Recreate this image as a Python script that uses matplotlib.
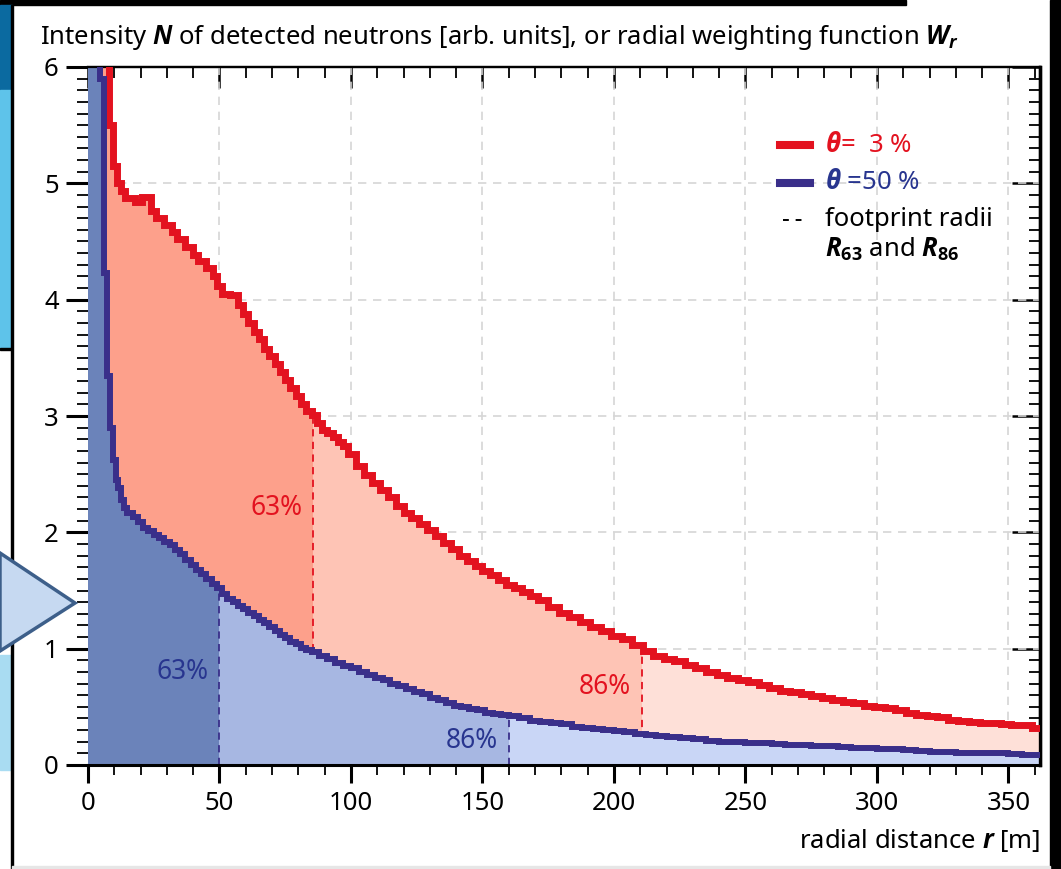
import numpy as np
import matplotlib
matplotlib.use("Agg")
import matplotlib.pyplot as plt
from matplotlib.ticker import MultipleLocator
from matplotlib.patches import Rectangle, Polygon

FONT = "Noto Sans"
plt.rcParams['font.family'] = [FONT, 'DejaVu Sans']
plt.rcParams['mathtext.fontset'] = 'custom'
plt.rcParams['mathtext.rm'] = FONT
plt.rcParams['mathtext.it'] = FONT + ':italic'
plt.rcParams['mathtext.bf'] = 'Open Sans:bold'
plt.rcParams['mathtext.bfit'] = 'Open Sans:italic:bold'

# --- data: step starts r [m] and intensity, last step ends at R_MAX
R_MAX = 362

red_r = [0, 8, 9.5, 11, 12.5, 14, 18, 20.5, 24, 26, 29, 32, 34, 37, 40, 42, 45, 47.5, 49,
         51, 54, 57, 59, 61, 63, 65, 67, 69, 71, 73, 75, 77, 79, 81, 83, 85, 87, 89, 91,
         93, 95, 97, 99, 102, 105, 108, 111, 114, 117, 120, 123, 126, 129, 132, 135, 138,
         141, 144, 147, 150, 153, 156, 159, 162, 165, 168, 171, 175, 179, 183, 187, 191,
         195, 199, 203, 207, 211, 215, 219, 223, 227, 231, 235, 239, 243, 247, 251, 255,
         259, 263, 267, 271, 275, 279, 283, 287, 291, 295, 299, 303, 307, 311, 315, 319,
         323, 327, 331, 335, 339, 343, 347, 351, 355, 359]
red_v = [7.0, 5.5, 5.15, 5.0, 4.93, 4.87, 4.84, 4.88, 4.76, 4.70, 4.64, 4.58, 4.52, 4.45,
         4.38, 4.33, 4.27, 4.20, 4.12, 4.05, 4.04, 3.95, 3.88, 3.80, 3.72, 3.66, 3.58, 3.52,
         3.45, 3.38, 3.31, 3.24, 3.17, 3.10, 3.04, 3.01, 2.94, 2.88, 2.85, 2.82, 2.78, 2.74,
         2.67, 2.57, 2.49, 2.42, 2.36, 2.30, 2.23, 2.17, 2.12, 2.07, 2.02, 1.97, 1.91, 1.86,
         1.80, 1.75, 1.71, 1.67, 1.63, 1.59, 1.55, 1.52, 1.49, 1.45, 1.42, 1.36, 1.31, 1.27,
         1.23, 1.19, 1.15, 1.11, 1.08, 1.03, 0.98, 0.94, 0.91, 0.89, 0.86, 0.83, 0.80, 0.77,
         0.75, 0.73, 0.71, 0.69, 0.66, 0.64, 0.63, 0.61, 0.59, 0.58, 0.56, 0.54, 0.53, 0.51,
         0.50, 0.49, 0.47, 0.45, 0.43, 0.42, 0.41, 0.39, 0.38, 0.37, 0.36, 0.36, 0.35, 0.34,
         0.34, 0.32]

blue_r = [0, 4.6, 6.1, 7.4, 8.4, 9.5, 10.5, 11.5, 12.5, 13.5, 15, 17, 19, 21, 23, 25, 27,
          29, 31, 33, 35, 37, 39, 41, 43, 45, 47, 49, 51, 53, 55, 57, 59, 61, 63, 65, 67,
          69, 71, 73, 75, 77, 79, 81, 83, 85, 88, 91, 94, 97, 100, 103, 106, 109, 112, 115,
          118, 121, 124, 127, 130, 133, 136, 139, 142, 145, 148, 151, 154, 157, 160, 164,
          168, 172, 176, 180, 184, 188, 192, 196, 200, 204, 208, 212, 216, 220, 225, 230,
          235, 240, 245, 250, 255, 260, 265, 270, 275, 280, 285, 290, 295, 300, 305, 310,
          315, 320, 325, 330, 335, 340, 345, 350, 355]
blue_v = [7.0, 5.9, 4.23, 3.34, 2.90, 2.62, 2.45, 2.38, 2.28, 2.21, 2.17, 2.13, 2.09, 2.04,
          2.01, 1.98, 1.95, 1.92, 1.89, 1.85, 1.81, 1.76, 1.72, 1.68, 1.64, 1.60, 1.56, 1.52,
          1.47, 1.43, 1.40, 1.37, 1.34, 1.31, 1.28, 1.25, 1.22, 1.19, 1.15, 1.12, 1.09, 1.06,
          1.04, 1.01, 0.99, 0.97, 0.94, 0.91, 0.88, 0.85, 0.83, 0.80, 0.77, 0.75, 0.73, 0.70,
          0.68, 0.65, 0.63, 0.61, 0.58, 0.56, 0.53, 0.51, 0.50, 0.48, 0.47, 0.45, 0.44, 0.43,
          0.42, 0.40, 0.38, 0.37, 0.36, 0.35, 0.33, 0.32, 0.31, 0.30, 0.29, 0.28, 0.27, 0.26,
          0.25, 0.24, 0.23, 0.22, 0.21, 0.20, 0.20, 0.19, 0.19, 0.18, 0.17, 0.17, 0.16, 0.16,
          0.155, 0.15, 0.145, 0.14, 0.135, 0.13, 0.12, 0.115, 0.11, 0.105, 0.10, 0.10, 0.10,
          0.095, 0.09]

# footprint radii R63, R86
red_radii = [85.5, 210.5]
blue_radii = [50, 160]
radii_labels = ["63%", "86%"]
red_label_y = [2.21, 0.67]
blue_label_y = [0.80, 0.21]

RED = "#e3121f"
BLUE_LINE = "#3a2f8a"
BLUE_TXT = "#28358f"
RED_FILLS = ["#fda08b", "#fec4b5", "#fee0d8"]
BLUE_FILLS = ["#6b83ba", "#a7b7e2", "#c9d6f6"]

W, H = 1061, 869


def fx(px):
    return px / W


def fy(py):
    return 1 - py / H


def step_xy(r, v, a, b):
    edges = list(r) + [R_MAX]
    xs, ys = [], []
    for i in range(len(v)):
        lo, hi = max(edges[i], a), min(edges[i + 1], b)
        if hi <= lo:
            continue
        xs += [lo, hi]
        ys += [v[i], v[i]]
    return xs, ys


def value_at(r, v, x):
    return v[np.searchsorted(r, x, side="right") - 1]


fig = plt.figure(figsize=(W / 100, H / 100), dpi=100)

# screenshot surroundings
deco = [
    Rectangle((0, fy(5)), fx(906), 1 - fy(5), color="black"),
    Rectangle((0, fy(90)), fx(12), fy(5) - fy(90), color="#0b6aa0"),
    Rectangle((0, fy(348)), fx(12), fy(90) - fy(348), color="#5ec3ea"),
    Rectangle((0, fy(350)), fx(12), fy(348) - fy(350), color="black"),
    Rectangle((0, fy(770)), fx(12), fy(655) - fy(770), color="#a9dcf2"),
    Rectangle((fx(11), 0), fx(2), fy(5), color="black"),
    Rectangle((fx(1050), 0), 1 - fx(1050), 1, color="black"),
    Rectangle((fx(12), fy(869)), fx(1038), fy(866) - fy(869), color="#e6e6e6"),
]
for p in deco:
    p.set_transform(fig.transFigure)
    fig.patches.append(p)
arrow = Polygon([(0, fy(553)), (fx(75), fy(603)), (0, fy(651))], closed=True,
                facecolor="#c6d9f1", edgecolor="#3d5f8a", lw=2.5,
                transform=fig.transFigure)
fig.patches.append(arrow)

ax = fig.add_axes([fx(88), fy(765), fx(1040) - fx(88), fy(67) - fy(765)])
ax.set_xlim(0, R_MAX)
ax.set_ylim(0, 6)

# red area (theta = 3 %), split at its footprint radii
bounds = [0] + red_radii + [R_MAX]
for k in range(3):
    xs, ys = step_xy(red_r, red_v, bounds[k], bounds[k + 1])
    ax.fill_between(xs, 0, ys, color=RED_FILLS[k], lw=0, zorder=1)
for R in red_radii:
    ax.plot([R, R], [0, value_at(red_r, red_v, R)], color=RED, lw=1.3,
            ls=(0, (4, 3)), zorder=1.5)

# blue area (theta = 50 %)
bounds = [0] + blue_radii + [R_MAX]
for k in range(3):
    xs, ys = step_xy(blue_r, blue_v, bounds[k], bounds[k + 1])
    ax.fill_between(xs, 0, ys, color=BLUE_FILLS[k], lw=0, zorder=2)
for R in blue_radii:
    ax.plot([R, R], [0, value_at(blue_r, blue_v, R)], color=BLUE_LINE, lw=1.3,
            ls=(0, (4, 3)), zorder=2.5)

xs, ys = step_xy(red_r, red_v, 0, R_MAX)
ax.plot(xs, ys, color=RED, lw=5, solid_joinstyle="miter", zorder=3)
xs, ys = step_xy(blue_r, blue_v, 0, R_MAX)
ax.plot(xs, ys, color=BLUE_LINE, lw=4.3, solid_joinstyle="miter", zorder=3.5)

for R, lab, y in zip(red_radii, radii_labels, red_label_y):
    ax.text(R - 4, y, lab, color=RED, fontsize=19, ha="right", va="center", zorder=5)
for R, lab, y in zip(blue_radii, radii_labels, blue_label_y):
    ax.text(R - 4, y, lab, color=BLUE_TXT, fontsize=19, ha="right", va="center", zorder=5)

# grid + axes styling
ax.set_axisbelow(True)
ax.grid(True, which="major", color="#d6d6d6", lw=1.2, ls=(0, (5, 4)))
ax.xaxis.set_major_locator(MultipleLocator(50))
ax.xaxis.set_minor_locator(MultipleLocator(10))
ax.yaxis.set_major_locator(MultipleLocator(1))
ax.yaxis.set_minor_locator(MultipleLocator(0.1))
ax.spines["left"].set_visible(False)
ax.spines["bottom"].set_linewidth(2.2)
ax.spines["top"].set_linewidth(1.6)
ax.spines["right"].set_linewidth(2.4)
ax.tick_params(which="major", direction="out", length=16, width=2.2,
               labelsize=18.5, top=False, right=False)
ax.tick_params(which="minor", direction="out", length=8, width=1.3, top=False, right=False)
ax.tick_params(axis="x", which="major", length=13, pad=6)
ax.tick_params(axis="x", which="minor", length=7)
ax.tick_params(axis="y", pad=5)

secx = ax.secondary_xaxis("top")
secx.xaxis.set_major_locator(MultipleLocator(50))
secx.xaxis.set_minor_locator(MultipleLocator(10))
secx.tick_params(which="major", direction="in", length=15, width=1.8, labeltop=False)
secx.tick_params(which="minor", direction="in", length=8, width=1.3)
secx.spines["top"].set_linewidth(1.6)

secy = ax.secondary_yaxis("right")
secy.yaxis.set_major_locator(MultipleLocator(1))
secy.yaxis.set_minor_locator(MultipleLocator(0.1))
secy.tick_params(which="major", direction="in", length=20, width=1.8, labelright=False)
secy.tick_params(which="minor", direction="in", length=8, width=1.3)
secy.spines["right"].set_linewidth(2.4)

# legend drawn by hand
tr = ax.transAxes
ax.plot([0.727, 0.758], [0.888, 0.888], color=RED, lw=5.8, transform=tr, zorder=6)
ax.plot([0.727, 0.758], [0.834, 0.834], color=BLUE_LINE, lw=5.8, transform=tr, zorder=6)
ax.plot([0.730, 0.756], [0.781, 0.781], color="black", lw=1.4, ls=(0, (3, 3.5)),
        transform=tr, zorder=6)
ax.text(0.774, 0.888, r"$\mathbfit{\theta}$=  3 %", color=RED, fontsize=18.5,
        va="center", transform=tr, zorder=6)
ax.text(0.774, 0.834, r"$\mathbfit{\theta}$ =50 %", color=BLUE_TXT, fontsize=18.5,
        va="center", transform=tr, zorder=6)
ax.text(0.774, 0.781, "footprint radii", color="black", fontsize=18.5,
        va="center", transform=tr, zorder=6)
ax.text(0.774, 0.738, r"$\mathbfit{R}_{\mathbf{63}}$ and $\mathbfit{R}_{\mathbf{86}}$",
        color="black", fontsize=18.5, va="center", transform=tr, zorder=6)

fig.text(fx(40), fy(38),
         r"Intensity $\mathbfit{N}$ of detected neutrons [arb. units], "
         r"or radial weighting function $\mathbfit{W}_{\mathbfit{r}}$",
         fontsize=18.5, ha="left", va="center")
fig.text(fx(1040), fy(840), r"radial distance $\mathbfit{r}$ [m]",
         fontsize=18.5, ha="right", va="center")

fig.savefig("out.png", dpi=100)
